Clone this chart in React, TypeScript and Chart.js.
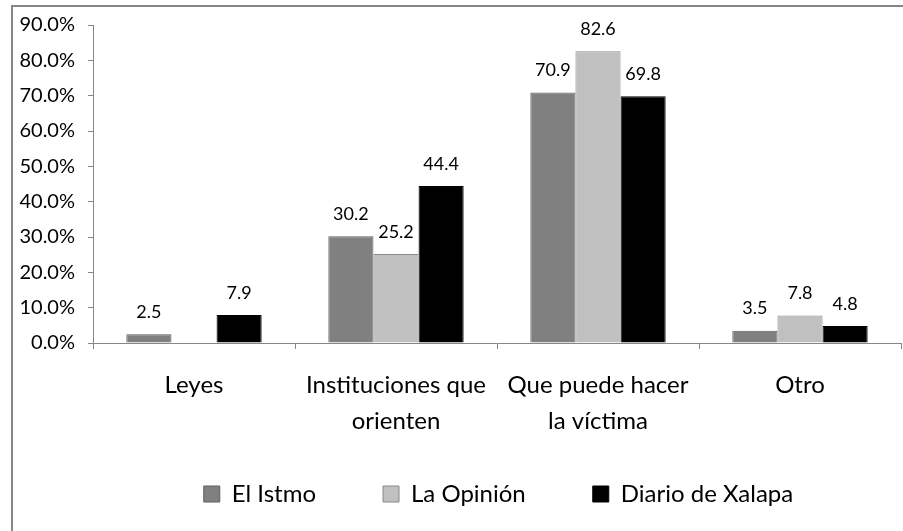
import React, { useEffect, useRef } from "react";
import { Chart, registerables } from "chart.js";

Chart.register(...registerables);

const categories: string[][] = [
  ["Leyes"],
  ["Instituciones que", "orienten"],
  ["Que puede hacer", "la víctima"],
  ["Otro"],
];
const seriesNames = ["El Istmo", "La Opinión", "Diario de Xalapa"];
const elIstmo: (number | null)[] = [2.5, 30.2, 70.9, 3.5];
const laOpinion: (number | null)[] = [null, 25.2, 82.6, 7.8];
const diarioXalapa: (number | null)[] = [7.9, 44.4, 69.8, 4.8];
const yMin = 0;
const yMax = 90;
const yStep = 10;

const fills = ["#808080", "#C0C0C0", "#000000"];
const borders = ["#5E5E5E", "#8A8A8A", "#000000"];
const FONT = "Lato";
const AXIS = "#868686";

const dataLabels = {
  id: "dataLabels",
  afterDatasetsDraw(chart: any) {
    const ctx = chart.ctx;
    ctx.save();
    ctx.font = `18px ${FONT}`;
    ctx.fillStyle = "#000";
    ctx.textAlign = "center";
    ctx.textBaseline = "middle";
    chart.data.datasets.forEach((ds: any, i: number) => {
      const meta = chart.getDatasetMeta(i);
      meta.data.forEach((bar: any, j: number) => {
        const v = ds.data[j];
        if (v === null || v === undefined) return;
        ctx.fillText(Number(v).toFixed(1), bar.x, bar.y - 22);
      });
    });
    ctx.restore();
  },
};

const legendShift = {
  id: "legendShift",
  afterLayout(chart: any) {
    const lg = chart.legend;
    if (lg) {
      lg.left += 48;
      lg.right += 48;
      lg.top -= 38;
    }
  },
};

export default function App() {
  const ref = useRef<HTMLCanvasElement>(null);
  useEffect(() => {
    if (!ref.current) return;
    const series = [elIstmo, laOpinion, diarioXalapa];
    const chart = new Chart(ref.current, {
      type: "bar",
      data: {
        labels: categories,
        datasets: series.map((d, i) => ({
          label: seriesNames[i],
          data: d,
          backgroundColor: fills[i],
          borderColor: borders[i],
          borderWidth: 1,
          categoryPercentage: 0.67,
          barPercentage: 1.0,
        })),
      },
      options: {
        animation: false,
        responsive: false,
        layout: { padding: { top: 24, right: 2, left: 0, bottom: 18 } },
        plugins: {
          tooltip: { enabled: false },
          legend: {
            position: "bottom",
            maxHeight: 60,
            labels: {
              font: { family: FONT, size: 24 },
              color: "#000",
              boxWidth: 16,
              boxHeight: 16,
              padding: 67,
            },
          },
        },
        scales: {
          x: {
            grid: {
              offset: true,
              drawOnChartArea: false,
              tickLength: 6,
              color: AXIS,
            },
            border: { color: AXIS },
            ticks: {
              font: { family: FONT, size: 24, lineHeight: 1.5 },
              color: "#000",
              padding: 18,
              maxRotation: 0,
              autoSkip: false,
            },
            afterFit(s: any) {
              s.height = 110;
            },
          },
          y: {
            min: yMin,
            max: yMax,
            grid: { drawOnChartArea: false, tickLength: 5, color: AXIS },
            border: { color: AXIS },
            ticks: {
              stepSize: yStep,
              font: { family: FONT, size: 20 },
              color: "#000",
              padding: 13,
              callback: (v: any) => Number(v).toFixed(1) + "%",
            },
            afterFit(s: any) {
              s.width = 93;
            },
          },
        },
      },
      plugins: [dataLabels, legendShift],
    });
    return () => chart.destroy();
  }, []);

  return (
    <div
      style={{
        position: "fixed",
        left: 0,
        top: 0,
        width: 903,
        height: 531,
        overflow: "hidden",
        background: "#fff",
      }}
    >
      <div
        style={{
          position: "absolute",
          left: 11,
          top: 5,
          width: 1000,
          height: 1000,
          border: `2px solid ${AXIS}`,
        }}
      />
      <canvas
        ref={ref}
        width={903}
        height={531}
        style={{ position: "absolute", left: 0, top: 0 }}
      />
    </div>
  );
}
